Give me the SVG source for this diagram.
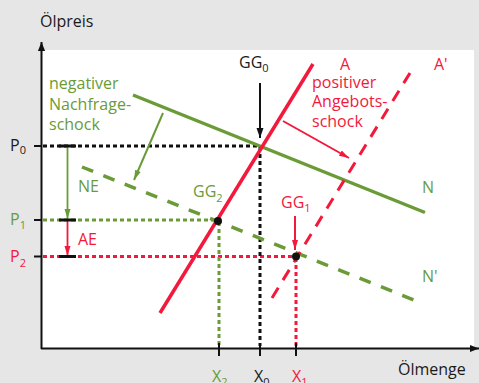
<svg xmlns="http://www.w3.org/2000/svg" width="479" height="383" viewBox="0 0 479 383">
<defs>
<style>
text{font-family:"Open Sans","Liberation Sans",sans-serif;font-size:16px}
.k{fill:#1a1a1a}.g{fill:#6a9b36}.r{fill:#f2193c}
.sub{font-size:11px}
.dot{stroke-width:3;stroke-dasharray:4 3;fill:none}
.ax{stroke:#111;stroke-width:2;fill:none}
</style>
<marker id="ak" viewBox="0 0 10 10" refX="10" refY="5" markerWidth="10" markerHeight="10" markerUnits="userSpaceOnUse" orient="auto"><path d="M0,1.5 L10,5 L0,8.5 Z" fill="#111"/></marker>
<marker id="ag" viewBox="0 0 10 10" refX="10" refY="5" markerWidth="10" markerHeight="10" markerUnits="userSpaceOnUse" orient="auto"><path d="M0,2 L10,5 L0,8 Z" fill="#6a9b36"/></marker>
<marker id="ar" viewBox="0 0 10 10" refX="10" refY="5" markerWidth="10" markerHeight="10" markerUnits="userSpaceOnUse" orient="auto"><path d="M0,2 L10,5 L0,8 Z" fill="#f2193c"/></marker>
<marker id="axh" viewBox="0 0 10 10" refX="10" refY="5" markerWidth="9" markerHeight="9" markerUnits="userSpaceOnUse" orient="auto"><path d="M0,1 L10,5 L0,9 Z" fill="#111"/></marker>
</defs>
<rect x="0" y="0" width="479" height="383" fill="#e6e6e6"/>
<rect x="42" y="50" width="432" height="298" fill="#ffffff"/>

<g id="connectors">
<!-- helper dotted lines -->
<line class="dot" x1="43" y1="146" x2="260" y2="146" stroke="#111"/>
<line class="dot" x1="43" y1="220" x2="218" y2="220" stroke="#6a9b36"/>
<line class="dot" x1="43" y1="256.5" x2="296" y2="256.5" stroke="#f2193c"/>
<line class="dot" x1="260" y1="147" x2="260" y2="346" stroke="#111"/>
<line class="dot" x1="219" y1="222" x2="219" y2="346" stroke="#6a9b36"/>
<line class="dot" x1="296" y1="258" x2="296" y2="346" stroke="#f2193c"/>
<!-- curves -->
<line id="N" x1="133" y1="95" x2="425" y2="212.5" stroke="#6a9b36" stroke-width="3.5"/>
<line id="Nprime" x1="82" y1="167" x2="419" y2="302" stroke="#6a9b36" stroke-width="3.5" stroke-dasharray="12 11"/>
<line id="A" x1="160" y1="313" x2="313" y2="64" stroke="#f2193c" stroke-width="3.5"/>
<line id="Aprime" x1="272" y1="298" x2="413" y2="68" stroke="#f2193c" stroke-width="3" stroke-dasharray="12 9"/>
<!-- arrows -->
<line x1="260" y1="83" x2="260" y2="138" stroke="#111" stroke-width="2" marker-end="url(#ak)"/>
<line x1="295" y1="216" x2="295" y2="250" stroke="#f2193c" stroke-width="2" marker-end="url(#ar)"/>
<line x1="163" y1="113" x2="134" y2="180" stroke="#6a9b36" stroke-width="2" marker-end="url(#ag)"/>
<line x1="283" y1="121" x2="349" y2="158" stroke="#f2193c" stroke-width="2" marker-end="url(#ar)"/>
<line x1="67.5" y1="147" x2="67.5" y2="219" stroke="#6a9b36" stroke-width="1.8" marker-end="url(#ag)"/>
<line x1="67.5" y1="221" x2="67.5" y2="256" stroke="#f2193c" stroke-width="1.8" marker-end="url(#ar)"/>
<!-- bars -->
<path d="M59,146H76M59,220H76M59,256.5H76" stroke="#111" stroke-width="3"/>
<!-- axes -->
<line class="ax" x1="41.5" y1="349" x2="41.5" y2="42" marker-end="url(#axh)"/>
<line class="ax" x1="41" y1="348.5" x2="479" y2="348.5" marker-end="url(#axh)"/>
<path d="M34,146H42M34,220H42M34,256.5H42M219,343V356M260,343V356M296,343V356" stroke="#111" stroke-width="2"/>
</g>

<g id="GG0"><text class="k" x="239" y="68">GG<tspan class="sub" dy="4">0</tspan></text></g>
<g id="GG2"><circle cx="218" cy="221" r="4" fill="#111"/><text class="g" x="193" y="197">GG<tspan class="sub" dy="5">2</tspan></text></g>
<g id="GG1"><circle cx="296" cy="256.5" r="4" fill="#111"/><text class="r" x="281" y="208">GG<tspan class="sub" dy="4">1</tspan></text></g>

<g id="labels">
<text class="k" x="40" y="27">Ölpreis</text>
<text class="k" x="398" y="375">Ölmenge</text>
<text class="g" x="49" y="89">negativer</text>
<text class="g" x="49" y="110">Nachfrage-</text>
<text class="g" x="49" y="130">schock</text>
<text class="r" x="340" y="70">A</text>
<text class="r" x="312" y="88">positiver</text>
<text class="r" x="312" y="107">Angebots-</text>
<text class="r" x="312" y="127">schock</text>
<text class="r" x="434" y="70">A'</text>
<text class="g" x="422" y="193">N</text>
<text class="g" x="422" y="282">N'</text>
<text class="g" x="78" y="192">NE</text>
<text class="r" x="78" y="245">AE</text>
<text class="k" x="10" y="151">P<tspan class="sub" dy="3">0</tspan></text>
<text class="g" x="10" y="225">P<tspan class="sub" dy="4">1</tspan></text>
<text class="r" x="10" y="262">P<tspan class="sub" dy="5">2</tspan></text>
<text class="g" x="212" y="382">X<tspan class="sub" dy="4">2</tspan></text>
<text class="k" x="254" y="382">X<tspan class="sub" dy="4">0</tspan></text>
<text class="r" x="292" y="382">X<tspan class="sub" dy="4">1</tspan></text>
</g>
</svg>
